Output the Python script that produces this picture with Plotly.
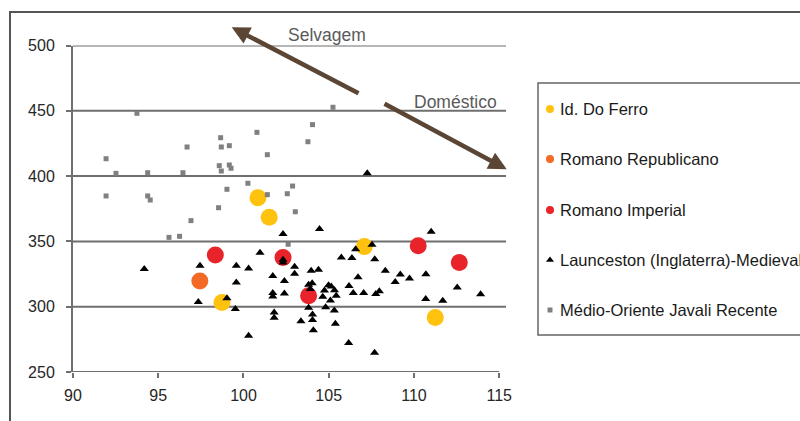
import plotly.graph_objects as go

# ---------------- data ----------------
series_names = ["Id. Do Ferro", "Romano Republicano", "Romano Imperial",
                "Launceston (Inglaterra)-Medieval", "Médio-Oriente Javali Recente"]

ferro_x = [100.85, 101.51, 98.74, 107.09, 111.25]
ferro_y = [383.5, 368.5, 303.2, 346.0, 291.8]

rep_x = [97.44]
rep_y = [319.7]

imp_x = [98.35, 102.32, 103.82, 110.25, 112.66]
imp_y = [339.6, 337.6, 308.4, 346.7, 333.8]

laun_x = [94.18, 97.45, 97.35, 99.03, 99.52, 99.58, 100.30, 99.58, 100.30, 100.97,
          101.72, 102.40, 101.72, 101.72, 102.40, 101.80, 101.80,
          102.32, 102.32, 102.32, 104.46, 103.00, 103.00, 103.97, 104.40, 103.82,
          104.03, 104.99, 105.15, 104.75, 105.34, 105.44, 104.65, 105.10, 103.82,
          104.05, 104.05, 103.37, 104.10, 104.82, 105.33, 105.39, 106.17, 107.69,
          103.92,
          107.26, 107.54, 106.58, 105.74, 106.36, 107.70, 106.72, 108.32, 109.20,
          108.90, 109.74, 110.70, 106.19, 106.44, 107.05, 107.76, 107.97, 112.54,
          113.91, 110.69, 111.69, 111.01]
laun_y = [328.9, 331.3, 303.6, 306.4, 298.2, 331.3, 329.2, 318.5, 277.7, 341.3,
          323.6, 319.6, 310.5, 307.9, 310.1, 295.5, 291.6,
          355.6, 336.0, 333.8, 359.4, 330.6, 325.2, 327.6, 328.3, 316.8,
          317.9, 316.4, 315.5, 312.4, 312.5, 308.4, 307.7, 304.8, 299.2,
          294.0, 289.8, 288.8, 282.0, 299.5, 297.0, 287.0, 272.2, 264.8,
          313.5,
          402.1, 347.4, 344.0, 337.6, 337.2, 336.3, 322.6, 327.5, 324.6,
          319.0, 321.5, 324.8, 315.8, 310.5, 310.5, 309.7, 311.8, 314.7,
          309.6, 305.9, 304.6, 357.4]

mo_x = [93.75, 105.25, 104.05, 100.79, 98.66, 103.78, 96.69, 98.70, 99.17, 91.94,
        101.40, 98.58, 99.17, 99.27, 98.70, 92.52, 94.38, 96.45, 100.26, 102.88,
        91.94, 94.38, 94.53, 99.03, 101.40, 102.57, 98.54, 103.04, 96.92, 95.63,
        96.25, 102.62]
mo_y = [448.1, 452.7, 439.4, 433.5, 429.4, 426.3, 422.3, 422.3, 423.3, 413.3,
        416.4, 408.0, 408.5, 406.0, 403.9, 402.1, 402.6, 402.6, 394.5, 392.4,
        384.8, 384.8, 381.7, 389.9, 385.8, 386.5, 375.8, 372.7, 365.9, 353.1,
        353.9, 347.8]

x_ticks = [90, 95, 100, 105, 110, 115]
y_ticks = [250, 300, 350, 400, 450, 500]
grid_vals = [300, 350, 400, 450, 500]

arrow_labels = ["Selvagem", "Doméstico"]

# ---------------- styles ----------------
W, H = 800, 421
FONT = "Liberation Sans, Arial, sans-serif"
colors = ["#FFC20E", "#F26A25", "#E8232A", "#000000", "#808080"]
symbols = ["circle", "circle", "circle", "triangle-up", "square"]
sizes = [17, 17, 17, 8, 5]
leg_sizes = [8, 8, 8, 7, 5]

fig = go.Figure()

data = [(ferro_x, ferro_y), (rep_x, rep_y), (imp_x, imp_y), (laun_x, laun_y), (mo_x, mo_y)]
for i, (xs, ys) in enumerate(data):
    fig.add_trace(go.Scatter(
        x=xs, y=ys, mode="markers", name=series_names[i], showlegend=False,
        marker=dict(color=colors[i], symbol=symbols[i], size=sizes[i], line=dict(width=0)),
        xaxis="x", yaxis="y", cliponaxis=False))

# legend markers on a pixel-space axis covering the whole figure
leg_py = [109, 159, 210, 260, 310]
for i in range(5):
    fig.add_trace(go.Scatter(
        x=[550], y=[leg_py[i]], mode="markers", showlegend=False, hoverinfo="skip",
        marker=dict(color=colors[i], symbol=symbols[i], size=leg_sizes[i], line=dict(width=0)),
        xaxis="x2", yaxis="y2"))

shapes = []
for v in grid_vals:
    shapes.append(dict(type="line", xref="x", yref="y", x0=90, x1=115.4, y0=v, y1=v,
                       line=dict(color="#6f6f6f", width=2), layer="below"))
shapes.append(dict(type="line", xref="x", yref="y", x0=90, x1=115, y0=250, y1=250,
                   line=dict(color="#6f6f6f", width=2), layer="below"))
# outer frame
shapes.append(dict(type="rect", xref="paper", yref="paper", x0=10 / W, x1=1.05,
                   y0=-0.05, y1=1 - 12 / H, line=dict(color="#555555", width=2)))
# legend box
shapes.append(dict(type="rect", xref="paper", yref="paper", x0=538 / W, x1=1.05,
                   y0=1 - 335 / H, y1=1 - 83 / H, line=dict(color="#666666", width=1.5)))

annotations = []
for i, name in enumerate(series_names):
    annotations.append(dict(x=558 / W, y=1 - leg_py[i] / H, xref="paper", yref="paper",
                            text=name, showarrow=False, xanchor="left", yanchor="middle",
                            font=dict(family=FONT, size=16.5, color="#1a1a1a")))

arrow_color = "#5b4636"
annotations.append(dict(x=231.7 / W, y=1 - 27.3 / H, xref="paper", yref="paper",
                        ax=128.3, ay=66.7, text="", showarrow=True, arrowhead=2,
                        arrowsize=0.8, arrowwidth=4.5, arrowcolor=arrow_color, standoff=0))
annotations.append(dict(x=506.7 / W, y=1 - 169.3 / H, xref="paper", yref="paper",
                        ax=-123.7, ay=-66.3, text="", showarrow=True, arrowhead=2,
                        arrowsize=0.8, arrowwidth=4.5, arrowcolor=arrow_color, standoff=0))
annotations.append(dict(x=327 / W, y=1 - 35 / H, xref="paper", yref="paper",
                        text=arrow_labels[0], showarrow=False, xanchor="center", yanchor="middle",
                        font=dict(family=FONT, size=17.5, color="#5a5a5a")))
annotations.append(dict(x=456 / W, y=1 - 102 / H, xref="paper", yref="paper",
                        text=arrow_labels[1], showarrow=False, xanchor="center", yanchor="middle",
                        font=dict(family=FONT, size=17.5, color="#5a5a5a")))

fig.update_layout(
    width=W, height=H,
    margin=dict(l=0, r=0, t=0, b=0),
    paper_bgcolor="white", plot_bgcolor="rgba(0,0,0,0)",
    font=dict(family=FONT, size=16, color="#262626"),
    showlegend=False,
    shapes=shapes, annotations=annotations,
    xaxis=dict(domain=[73 / W, 506 / W], range=[90, 115.4], tickvals=x_ticks,
               showgrid=False, zeroline=False, showline=False, ticks="outside",
               ticklen=5, tickwidth=2, tickcolor="#6f6f6f", automargin=False,
               ticklabelstandoff=4, tickfont=dict(size=16, color="#262626"), anchor="y"),
    yaxis=dict(domain=[1 - 372 / H, 1 - 45.5 / H], range=[250, 500], tickvals=y_ticks,
               showgrid=False, zeroline=False, showline=True, linecolor="#6f6f6f",
               linewidth=2, ticks="outside", ticklen=5, tickwidth=2, tickcolor="#6f6f6f",
               automargin=False, ticklabelstandoff=8,
               tickfont=dict(size=16, color="#262626"), anchor="x"),
    xaxis2=dict(domain=[0, 1], range=[0, W], visible=False, anchor="y2", fixedrange=True),
    yaxis2=dict(domain=[0, 1], range=[H, 0], visible=False, anchor="x2", fixedrange=True),
)

fig.write_html("out.html")
